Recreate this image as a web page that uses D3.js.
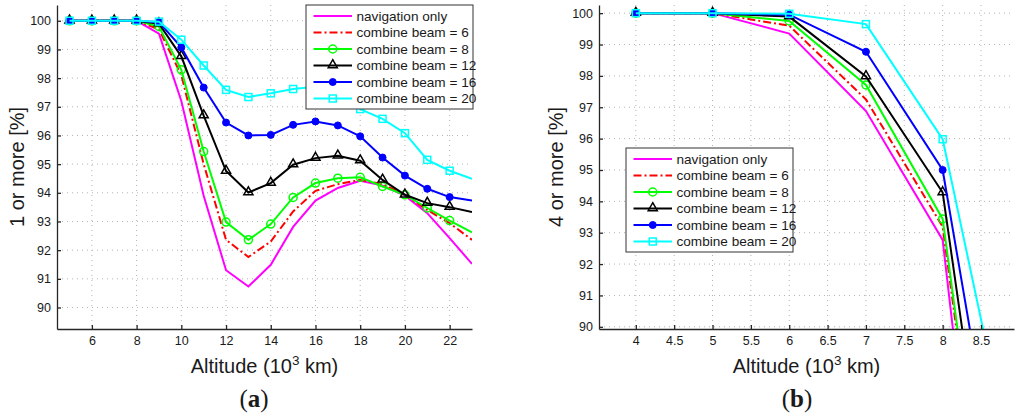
<!DOCTYPE html>
<html>
<head>
<meta charset="utf-8">
<title>Coverage vs altitude</title>
<script src="https://cdnjs.cloudflare.com/ajax/libs/d3/7.8.5/d3.min.js"></script>
<style>
  body { margin: 0; background: #fff; }
  text { font-family: "Liberation Sans", Arial, sans-serif; fill: #1a1a1a; }
</style>
</head>
<body>
<script type="text/javascript">
  // ---- data, panel (a): 1 or more ----
  var altA = [5, 6, 7, 8, 9, 10, 11, 12, 13, 14, 15, 16, 17, 18, 19, 20, 21, 22, 23];
  var navA = [100, 100, 100, 100, 99.55, 97.2, 93.9, 91.3, 90.73, 91.49, 92.81, 93.73, 94.17, 94.42, 94.25, 93.9, 93.29, 92.42, 91.52];
  var beam6A = [100, 100, 100, 100, 99.7, 98.1, 95.0, 92.36, 91.76, 92.3, 93.35, 94.07, 94.3, 94.45, 94.3, 93.93, 93.4, 92.94, 92.36];
  var beam8A = [100, 100, 100, 100, 99.8, 98.29, 95.44, 92.98, 92.36, 92.91, 93.84, 94.34, 94.51, 94.54, 94.22, 93.93, 93.47, 93.03, 92.62];
  var beam12A = [100, 100, 100, 100, 99.9, 98.76, 96.69, 94.76, 94.01, 94.34, 94.98, 95.21, 95.29, 95.12, 94.45, 93.93, 93.64, 93.5, 93.33];
  var beam16A = [100, 100, 100, 100, 99.95, 99.07, 97.67, 96.45, 96.0, 96.02, 96.37, 96.49, 96.35, 95.97, 95.23, 94.6, 94.14, 93.85, 93.73];
  var beam20A = [100, 100, 100, 100, 99.97, 99.34, 98.44, 97.59, 97.34, 97.47, 97.62, 97.7, 97.45, 96.92, 96.58, 96.08, 95.15, 94.77, 94.49];
  var xTicksA = [6, 8, 10, 12, 14, 16, 18, 20, 22];
  var yTicksA = [90, 91, 92, 93, 94, 95, 96, 97, 98, 99, 100];

  // ---- data, panel (b): 4 or more ----
  var altB = [4, 5, 6, 7, 8, 9];
  var navB = [100, 100, 99.35, 96.88, 92.77, 71.5];
  var beam6B = [100, 100, 99.6, 97.25, 93.19, 75.0];
  var beam8B = [100, 100, 99.75, 97.71, 93.44, 75.3];
  var beam12B = [100, 100, 99.89, 97.98, 94.28, 77.2];
  var beam16B = [100, 100, 99.95, 98.77, 95.0, 80.7];
  var beam20B = [100, 100, 99.98, 99.65, 95.98, 84.5];
  var xTicksB = [4, 4.5, 5, 5.5, 6, 6.5, 7, 7.5, 8, 8.5];
  var yTicksB = [90, 91, 92, 93, 94, 95, 96, 97, 98, 99, 100];

  var seriesNames = ["navigation only", "combine beam = 6", "combine beam = 8",
                     "combine beam = 12", "combine beam = 16", "combine beam = 20"];

  // line styles, one per series
  var styles = [
    { color: "#ff00ff", dash: null, marker: null },
    { color: "#ff0000", dash: "8,3,2,3", marker: null },
    { color: "#00ff00", dash: null, marker: "circle" },
    { color: "#000000", dash: null, marker: "triangle" },
    { color: "#0000ff", dash: null, marker: "dot" },
    { color: "#00ffff", dash: null, marker: "square" }
  ];

  var width = 1024, height = 419;

  var svg = d3.select("body")
    .append("svg")
    .attr("width", width)
    .attr("height", height);

  function drawMarker(g, type, color, px, py) {
    if (type === "circle") {
      g.append("circle").attr("cx", px).attr("cy", py).attr("r", 4)
        .attr("fill", "none").attr("stroke", color).attr("stroke-width", 1.5);
    } else if (type === "triangle") {
      g.append("path").attr("d", d3.symbol().type(d3.symbolTriangle).size(36)())
        .attr("transform", "translate(" + px + "," + (py - 0.5) + ")")
        .attr("fill", "none").attr("stroke", color).attr("stroke-width", 1.5);
    } else if (type === "dot") {
      g.append("circle").attr("cx", px).attr("cy", py).attr("r", 3.5)
        .attr("fill", color).attr("stroke", color);
    } else if (type === "square") {
      g.append("rect").attr("x", px - 3.5).attr("y", py - 3.5)
        .attr("width", 7).attr("height", 7)
        .attr("fill", "none").attr("stroke", color).attr("stroke-width", 1.5);
    }
  }

  function panel(opt) {
    var x = d3.scaleLinear().domain(opt.xDomain).range([opt.left, opt.right]);
    var y = d3.scaleLinear().domain(opt.yDomain).range([opt.bottom, opt.top]);
    var g = svg.append("g");

    // clip for the curves
    g.append("clipPath").attr("id", opt.id)
      .append("rect")
      .attr("x", opt.left).attr("y", opt.top)
      .attr("width", opt.right - opt.left).attr("height", opt.bottom - opt.top);

    // dotted grid
    var grid = g.append("g").attr("stroke", "#b3b3b3").attr("stroke-width", 1)
      .attr("stroke-dasharray", "1,4");
    opt.xTicks.forEach(function (t) {
      grid.append("line").attr("x1", x(t)).attr("x2", x(t))
        .attr("y1", opt.top).attr("y2", opt.bottom);
    });
    opt.yTicks.forEach(function (t) {
      grid.append("line").attr("x1", opt.left).attr("x2", opt.right)
        .attr("y1", y(t)).attr("y2", y(t));
    });

    // curves
    var line = d3.line()
      .x(function (d) { return x(d[0]); })
      .y(function (d) { return y(d[1]); });

    opt.series.forEach(function (vals, i) {
      var st = styles[i];
      var pts = opt.xs.map(function (v, j) { return [v, vals[j]]; });
      var sg = g.append("g");
      sg.append("path")
        .datum(pts)
        .attr("clip-path", "url(#" + opt.id + ")")
        .attr("d", line)
        .attr("fill", "none")
        .attr("stroke", st.color)
        .attr("stroke-width", 2)
        .attr("stroke-dasharray", st.dash);
      if (st.marker) {
        pts.forEach(function (p) {
          if (p[0] < opt.xDomain[1] && p[1] >= opt.yDomain[0]) {
            drawMarker(sg, st.marker, st.color, x(p[0]), y(p[1]));
          }
        });
      }
    });

    // axes, ticks inward
    var xAxis = g.append("g")
      .attr("transform", "translate(0," + opt.bottom + ")")
      .call(d3.axisBottom(x).tickValues(opt.xTicks).tickSize(-4).tickSizeOuter(0).tickPadding(7)
        .tickFormat(d3.format("")));
    var yAxis = g.append("g")
      .attr("transform", "translate(" + opt.left + ",0)")
      .call(d3.axisLeft(y).tickValues(opt.yTicks).tickSize(-4).tickSizeOuter(0).tickPadding(6)
        .tickFormat(d3.format("d")));
    [xAxis, yAxis].forEach(function (a) {
      a.selectAll("path, line").attr("stroke", "#262626").attr("stroke-width", 1.3);
      a.selectAll("text").attr("font-size", 12.5).attr("fill", "#1a1a1a")
        .attr("font-family", "\"Liberation Sans\", Arial, sans-serif");
    });

    // axis titles
    var cx = (opt.left + opt.right) / 2;
    var xt = g.append("text").attr("x", cx).attr("y", 373)
      .attr("text-anchor", "middle").attr("font-size", 20);
    xt.append("tspan").text("Altitude (10");
    xt.append("tspan").attr("dy", -8).attr("font-size", 13.5).text("3");
    xt.append("tspan").attr("dy", 8).text(" km)");

    g.append("text")
      .attr("transform", "translate(" + opt.yLabelX + "," + ((opt.top + opt.bottom) / 2) + ") rotate(-90)")
      .attr("text-anchor", "middle").attr("font-size", 20)
      .text(opt.yLabel);

    // panel letter
    var pl = g.append("text").attr("x", opt.letterX).attr("y", 407)
      .attr("text-anchor", "middle").attr("font-size", 25)
      .style("font-family", "\"Liberation Serif\", \"DejaVu Serif\", serif");
    pl.append("tspan").text("(");
    pl.append("tspan").attr("font-weight", "bold").text(opt.letter);
    pl.append("tspan").text(")");

    // legend
    var lg = g.append("g");
    lg.append("rect")
      .attr("x", opt.legX).attr("y", opt.legY)
      .attr("width", 167).attr("height", 104)
      .attr("fill", "#fff").attr("stroke", "#333").attr("stroke-width", 1);
    seriesNames.forEach(function (name, i) {
      var st = styles[i];
      var ly = opt.legY + 11 + i * 16.5;
      var x0 = opt.legX + 7.5, x1 = opt.legX + 46;
      lg.append("line").attr("x1", x0).attr("x2", x1).attr("y1", ly).attr("y2", ly)
        .attr("stroke", st.color).attr("stroke-width", 2)
        .attr("stroke-dasharray", st.dash);
      if (st.marker) drawMarker(lg, st.marker, st.color, (x0 + x1) / 2, ly);
      lg.append("text").attr("x", opt.legX + 50.5).attr("y", ly)
        .attr("dominant-baseline", "central").attr("font-size", 13.6)
        .text(name);
    });
  }

  panel({
    id: "clipA", left: 57, right: 472, top: 5, bottom: 329,
    xDomain: [4.44, 23], yDomain: [89.25, 100.55],
    xs: altA, series: [navA, beam6A, beam8A, beam12A, beam16A, beam20A],
    xTicks: xTicksA, yTicks: yTicksA,
    yLabel: "1 or more [%]", yLabelX: 24,
    letter: "a", letterX: 254,
    legX: 306, legY: 5
  });

  panel({
    id: "clipB", left: 599, right: 1014, top: 5, bottom: 329,
    xDomain: [3.52, 8.93], yDomain: [89.93, 100.26],
    xs: altB, series: [navB, beam6B, beam8B, beam12B, beam16B, beam20B],
    xTicks: xTicksB, yTicks: yTicksB,
    yLabel: "4 or more [%]", yLabelX: 563,
    letter: "b", letterX: 797,
    legX: 626, legY: 148
  });
</script>
</body>
</html>
